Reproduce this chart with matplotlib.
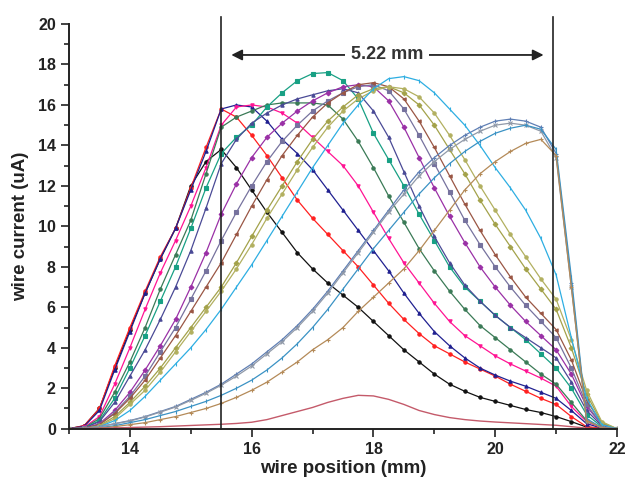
import matplotlib
matplotlib.use("Agg")
import matplotlib.pyplot as plt
from matplotlib.ticker import MultipleLocator

plt.rcParams['font.family'] = ['Liberation Sans', 'DejaVu Sans']

# wire positions (mm), 0.25 mm steps from 13 to 22
position = [13.0, 13.25, 13.5, 13.75, 14.0, 14.25, 14.5, 14.75, 15.0, 15.25,
            15.5, 15.75, 16.0, 16.25, 16.5, 16.75, 17.0, 17.25, 17.5, 17.75,
            18.0, 18.25, 18.5, 18.75, 19.0, 19.25, 19.5, 19.75, 20.0, 20.25,
            20.5, 20.75, 21.0, 21.25, 21.5, 21.75, 22.0]

# wire current (uA) for each scan
black = [0, 0.15, 1.0, 3.0, 4.9, 6.7, 8.4, 9.9, 12.0, 13.2,
         13.8, 12.9, 11.8, 10.7, 9.7, 8.7, 7.9, 7.2, 6.6, 6.0,
         5.3, 4.6, 3.9, 3.3, 2.7, 2.2, 1.85, 1.55, 1.35, 1.15,
         0.95, 0.8, 0.6, 0.35, 0.08, 0.02, 0]
red = [0, 0.15, 1.0, 3.1, 5.0, 6.8, 8.5, 9.9, 11.9, 13.9,
       15.8, 15.4, 14.5, 13.5, 12.4, 11.3, 10.4, 9.6, 8.8, 8.0,
       7.1, 6.2, 5.4, 4.7, 4.1, 3.7, 3.3, 2.95, 2.6, 2.2,
       1.85, 1.5, 1.2, 0.6, 0.1, 0.02, 0]
blue = [0, 0.12, 0.9, 2.9, 4.8, 6.7, 8.4, 9.9, 11.8, 13.7,
        15.8, 16.0, 15.9, 15.2, 14.3, 13.6, 12.8, 11.8, 10.8, 9.8,
        8.8, 7.8, 6.7, 5.7, 4.8, 4.1, 3.5, 3.0, 2.65, 2.35,
        2.1, 1.8, 1.5, 0.9, 0.25, 0.03, 0]
pink = [0, 0.08, 0.6, 2.2, 4.0, 5.9, 7.7, 9.3, 11.0, 12.9,
        15.0, 15.9, 16.0, 15.9, 15.6, 15.1, 14.4, 13.7, 13.0, 12.0,
        10.7, 9.4, 8.2, 7.2, 6.2, 5.3, 4.6, 4.1, 3.6, 3.2,
        2.85, 2.5, 2.1, 1.1, 0.35, 0.05, 0]
dark_green = [0, 0.05, 0.5, 1.8, 3.3, 5.0, 6.9, 8.6, 10.3, 12.6,
              14.9, 15.4, 15.7, 16.0, 16.1, 16.1, 16.1, 16.0, 15.3, 14.2,
              12.9, 11.5, 10.2, 8.9, 7.8, 6.8, 5.9, 5.1, 4.5, 3.9,
              3.3, 2.7, 2.2, 1.3, 0.4, 0.06, 0]
teal = [0, 0.04, 0.4, 1.5, 3.0, 4.6, 6.3, 8.0, 9.9, 11.9,
        13.6, 14.4, 15.0, 15.9, 16.6, 17.2, 17.55, 17.6, 17.2, 16.3,
        14.6, 13.3, 12.0, 10.6, 9.3, 8.0, 7.0, 6.3, 5.6, 5.0,
        4.4, 3.7, 3.0, 2.0, 0.7, 0.1, 0]
indigo = [0, 0.03, 0.35, 1.3, 2.6, 3.9, 5.4, 7.0, 8.8, 10.9,
          13.1, 14.3, 15.1, 15.6, 16.0, 16.3, 16.5, 16.7, 16.8, 16.6,
          15.7, 14.4, 12.7, 11.0, 9.5, 8.2, 7.1, 6.3, 5.6, 5.0,
          4.5, 4.0, 3.5, 2.3, 0.9, 0.15, 0]
violet = [0, 0.02, 0.25, 0.9, 1.8, 2.9, 4.1, 5.4, 7.0, 8.7,
          10.6, 12.1, 13.4, 14.4, 15.1, 15.7, 16.2, 16.6, 16.9, 17.0,
          16.9, 16.2, 14.9, 13.4, 11.9, 10.5, 9.2, 8.0, 7.0, 6.1,
          5.3, 4.6, 3.9, 2.7, 1.1, 0.2, 0]
slate = [0, 0.02, 0.2, 0.8, 1.6, 2.6, 3.8, 5.0, 6.4, 7.8,
         9.3, 10.7, 12.0, 13.2, 14.2, 15.0, 15.7, 16.2, 16.6, 16.9,
         17.0, 16.7, 15.8, 14.5, 13.1, 11.7, 10.3, 9.1, 8.0, 7.0,
         6.1, 5.3, 4.5, 3.0, 1.2, 0.2, 0]
brown = [0, 0.02, 0.2, 0.75, 1.5, 2.4, 3.5, 4.6, 5.8, 7.0,
         8.2, 9.6, 11.0, 12.3, 13.5, 14.5, 15.4, 16.1, 16.6, 17.0,
         17.1, 16.9, 16.3, 15.2, 13.9, 12.5, 11.1, 9.8, 8.6, 7.5,
         6.5, 5.7, 4.9, 3.4, 1.4, 0.25, 0]
olive = [0, 0.01, 0.15, 0.6, 1.3, 2.1, 3.0, 4.0, 5.0, 6.0,
         7.0, 8.2, 9.5, 10.8, 12.0, 13.2, 14.3, 15.2, 15.9, 16.5,
         16.8, 16.9, 16.6, 16.0, 15.0, 13.8, 12.6, 11.3, 10.1, 9.0,
         7.9, 6.9, 5.9, 4.0, 1.7, 0.3, 0]
olive2 = [0, 0.01, 0.12, 0.5, 1.2, 1.9, 2.8, 3.8, 4.8, 5.8,
          6.8, 7.9, 9.1, 10.4, 11.6, 12.8, 13.9, 14.9, 15.7, 16.3,
          16.7, 16.9, 16.8, 16.4, 15.6, 14.5, 13.3, 12.0, 10.8, 9.6,
          8.5, 7.4, 6.4, 4.4, 1.9, 0.35, 0]
cyan = [0, 0.01, 0.1, 0.4, 0.9, 1.6, 2.4, 3.2, 4.0, 4.9,
        5.9, 7.0, 8.1, 9.3, 10.5, 11.7, 12.9, 14.0, 15.1, 16.0,
        16.8, 17.3, 17.4, 17.2, 16.6, 15.8, 15.0, 14.0, 12.9, 11.9,
        10.8, 9.4, 7.6, 4.5, 1.5, 0.2, 0]
steel = [0, 0.02, 0.1, 0.25, 0.4, 0.6, 0.85, 1.1, 1.45, 1.8,
         2.2, 2.7, 3.2, 3.8, 4.4, 5.1, 5.9, 6.8, 7.8, 8.8,
         9.8, 10.8, 11.8, 12.7, 13.4, 14.0, 14.5, 14.9, 15.2, 15.3,
         15.2, 14.9, 13.6, 7.2, 0.4, 0.05, 0]
gray = [0, 0.02, 0.1, 0.24, 0.38, 0.58, 0.82, 1.07, 1.4, 1.75,
        2.15, 2.6, 3.1, 3.7, 4.3, 5.0, 5.8, 6.7, 7.7, 8.7,
        9.7, 10.7, 11.6, 12.5, 13.2, 13.8, 14.3, 14.7, 15.0, 15.1,
        15.0, 14.7, 13.4, 7.0, 0.4, 0.05, 0]
light_blue = [0, 0.01, 0.05, 0.15, 0.3, 0.45, 0.65, 0.85, 1.1, 1.35,
              1.65, 2.0, 2.4, 2.9, 3.5, 4.2, 5.0, 5.9, 6.9, 7.9,
              8.9, 9.8, 10.7, 11.6, 12.4, 13.1, 13.7, 14.2, 14.6, 14.85,
              15.0, 14.8, 13.8, 7.5, 0.5, 0.05, 0]
tan = [0, 0.01, 0.03, 0.1, 0.2, 0.3, 0.45, 0.6, 0.8, 1.0,
       1.25, 1.55, 1.9, 2.3, 2.8, 3.3, 3.9, 4.4, 5.0, 5.8,
       6.5, 7.2, 7.9, 8.8, 9.8, 10.8, 11.8, 12.6, 13.2, 13.7,
       14.1, 14.3, 13.5, 7.0, 0.4, 0.05, 0]
maroon = [0, 0.01, 0.02, 0.04, 0.06, 0.08, 0.1, 0.13, 0.16, 0.19,
          0.22, 0.26, 0.32, 0.45, 0.65, 0.85, 1.05, 1.3, 1.5, 1.65,
          1.62, 1.45, 1.2, 0.9, 0.7, 0.55, 0.45, 0.38, 0.33, 0.29,
          0.25, 0.21, 0.17, 0.1, 0.03, 0.01, 0]

scans = [
    (black, '#111111', 'o'),
    (red, '#ff2020', 'o'),
    (blue, '#202090', '^'),
    (pink, '#ff1493', 'v'),
    (dark_green, '#3a7a56', 'o'),
    (teal, '#18a084', 's'),
    (indigo, '#4a4a96', '^'),
    (violet, '#9a30a6', 'D'),
    (slate, '#76729e', 's'),
    (brown, '#9a5644', '<'),
    (olive, '#a3a24a', 'D'),
    (olive2, '#b2b060', 'o'),
    (cyan, '#2eaee2', '|'),
    (steel, '#5f7fb4', '+'),
    (gray, '#9099a8', 'x'),
    (light_blue, '#3a92c4', '|'),
    (tan, '#b48a58', '+'),
]

fig = plt.figure(figsize=(6.25, 4.83), dpi=100)
ax = fig.add_axes([0.1104, 0.1124, 0.8768, 0.8379])

for values, color, marker in scans:
    ax.plot(position, values, color=color, lw=0.9, marker=marker,
            ms=2.4, mew=0.8)
ax.plot(position, maroon, color='#c45a6a', lw=1.0)

# edges used for the width measurement
for edge in [15.5, 20.95]:
    ax.plot([edge, edge], [0, 20.35], color='#222222', lw=1.2, clip_on=False)

ax.annotate('', xy=(15.62, 18.47), xytext=(20.84, 18.47),
            arrowprops=dict(arrowstyle='<|-|>', color='#222222', lw=1.3,
                            mutation_scale=16))
ax.text(18.22, 18.47, '5.22 mm', ha='center', va='center', fontsize=13,
        fontweight='bold', color='#333333',
        bbox=dict(facecolor='white', edgecolor='none', pad=4))

ax.set_xlim(13, 22)
ax.set_ylim(0, 20)
ax.xaxis.set_major_locator(MultipleLocator(2))
ax.xaxis.set_minor_locator(MultipleLocator(1))
ax.yaxis.set_major_locator(MultipleLocator(2))
ax.yaxis.set_minor_locator(MultipleLocator(1))
ax.set_xticks([14, 16, 18, 20, 22])
ax.tick_params(which='major', length=6, width=1.2, direction='out',
               labelsize=11.5, colors='#222222')
ax.tick_params(which='minor', length=3.5, width=1.2, direction='out',
               colors='#222222')
for lab in ax.get_xticklabels() + ax.get_yticklabels():
    lab.set_fontweight('bold')

ax.spines['top'].set_visible(False)
ax.spines['right'].set_visible(False)
for s in ['left', 'bottom']:
    ax.spines[s].set_linewidth(1.4)
    ax.spines[s].set_color('#222222')

ax.set_xlabel('wire position (mm)', fontsize=13.5, fontweight='bold',
              color='#222222', labelpad=2)
ax.set_ylabel('wire current (uA)', fontsize=13.5, fontweight='bold',
              color='#222222', labelpad=6)

plt.savefig('out.png', dpi=100)
